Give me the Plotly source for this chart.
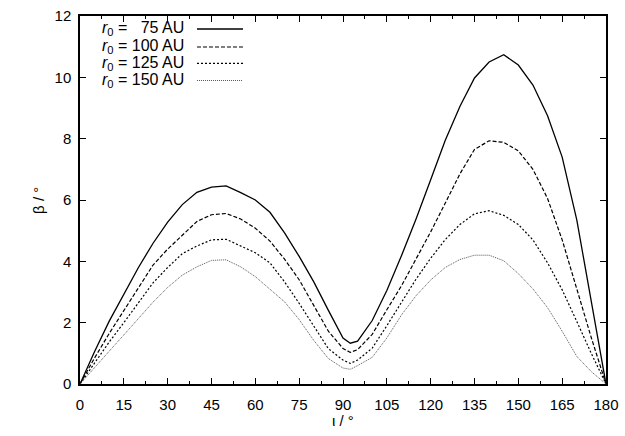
import plotly.graph_objects as go

iota = [0, 5, 10, 15, 20, 25, 30, 35, 40, 45, 50, 55, 60, 65, 70, 75, 80, 85, 90, 92.5,
        95, 100, 105, 110, 115, 120, 125, 130, 135, 140, 145, 150, 155, 160, 165, 170, 175, 180]

beta_75 = [0, 1.06, 2.05, 2.93, 3.80, 4.59, 5.28, 5.85, 6.25, 6.42, 6.46, 6.24, 6.00, 5.60, 4.93,
           4.16, 3.33, 2.40, 1.50, 1.33, 1.40, 2.07, 3.05, 4.18, 5.38, 6.66, 7.95, 9.05, 9.98,
           10.50, 10.74, 10.40, 9.75, 8.75, 7.40, 5.35, 2.65, 0]
beta_100 = [0, 0.85, 1.65, 2.40, 3.12, 3.88, 4.40, 4.85, 5.30, 5.52, 5.56, 5.38, 5.08, 4.66, 4.07,
            3.40, 2.55, 1.72, 1.16, 1.03, 1.12, 1.62, 2.42, 3.20, 4.08, 4.96, 5.90, 6.85, 7.65,
            7.93, 7.88, 7.60, 7.00, 6.05, 4.70, 3.11, 1.50, 0]
beta_125 = [0, 0.70, 1.37, 2.00, 2.67, 3.30, 3.80, 4.25, 4.50, 4.70, 4.72, 4.50, 4.28, 3.95, 3.33,
            2.63, 1.87, 1.15, 0.78, 0.67, 0.78, 1.17, 1.90, 2.68, 3.42, 4.10, 4.71, 5.20, 5.55,
            5.65, 5.50, 5.20, 4.70, 3.95, 3.07, 2.04, 0.99, 0]
beta_150 = [0, 0.55, 1.07, 1.60, 2.13, 2.67, 3.15, 3.55, 3.82, 4.03, 4.05, 3.82, 3.50, 3.10, 2.68,
            2.10, 1.42, 0.83, 0.52, 0.48, 0.60, 0.87, 1.50, 2.25, 2.88, 3.39, 3.80, 4.06, 4.20,
            4.20, 4.02, 3.60, 3.10, 2.49, 1.72, 0.90, 0.40, 0]

labels = ["<i>r</i><sub>0</sub> =   75 AU", "<i>r</i><sub>0</sub> = 100 AU",
          "<i>r</i><sub>0</sub> = 125 AU", "<i>r</i><sub>0</sub> = 150 AU"]
x_title = "ι / °"
y_title = "β / °"
series = [beta_75, beta_100, beta_125, beta_150]
dashes = ["solid", "4px,2px", "2px,2px", "1px,1px"]
colors = ["#000000", "#000000", "#000000", "#555555"]
widths = [1.3, 1.2, 1.2, 1.0]

FONT = "Liberation Sans, Arial, sans-serif"

fig = go.Figure()
for y, d, c, w in zip(series, dashes, colors, widths):
    fig.add_trace(go.Scatter(x=iota, y=y, mode="lines",
                             line=dict(color=c, dash=d, width=w), showlegend=False))

# gnuplot-style key: text right-aligned, sample line on its right
row_y = [0.9647, 0.9158, 0.8710, 0.8247]
for lab, yy, d, c, w in zip(labels, row_y, dashes, colors, widths):
    fig.add_annotation(xref="paper", yref="paper", x=0.2010, y=yy, text=lab,
                       showarrow=False, xanchor="right", yanchor="middle",
                       font=dict(family=FONT, size=16, color="black"))
    fig.add_shape(type="line", xref="paper", yref="paper", x0=0.2224, x1=0.3099, y0=yy, y1=yy,
                  line=dict(color=c, dash=d, width=w))

# axis titles
fig.add_annotation(xref="paper", yref="paper", x=0.5, y=-0.098, text=x_title, showarrow=False,
                   xanchor="center", yanchor="middle", font=dict(family=FONT, size=15, color="black"))
fig.add_annotation(xref="paper", yref="paper", x=-0.080, y=0.5, text=y_title, showarrow=False,
                   textangle=-90, xanchor="center", yanchor="middle",
                   font=dict(family=FONT, size=15, color="black"))

fig.update_layout(
    width=625, height=436,
    margin=dict(l=80, r=19, t=16, b=52),
    paper_bgcolor="white", plot_bgcolor="white",
    font=dict(family=FONT, size=15, color="black"),
)
fig.update_xaxes(range=[0, 180], tickvals=list(range(0, 181, 15)), ticks="inside", ticklen=6,
                 tickwidth=1, tickcolor="black", showline=True, linecolor="black", linewidth=1.5,
                 mirror="ticks", showgrid=False, zeroline=False, automargin=False,
                 minor=dict(ticks="inside", ticklen=3, dtick=7.5, tickcolor="black", showgrid=False),
                 ticklabelstandoff=6)
fig.update_yaxes(range=[0, 12], tickvals=list(range(0, 13, 2)), ticks="inside", ticklen=6,
                 tickwidth=1, tickcolor="black", showline=True, linecolor="black", linewidth=1.5,
                 mirror="ticks", showgrid=False, zeroline=False, ticklabelstandoff=4,
                 automargin=False)

# remove the default 8px page margin so the figure sits at the window's top-left corner
fig.write_html("out.html", config={"displayModeBar": False},
               post_script="document.body.style.margin='0';")
